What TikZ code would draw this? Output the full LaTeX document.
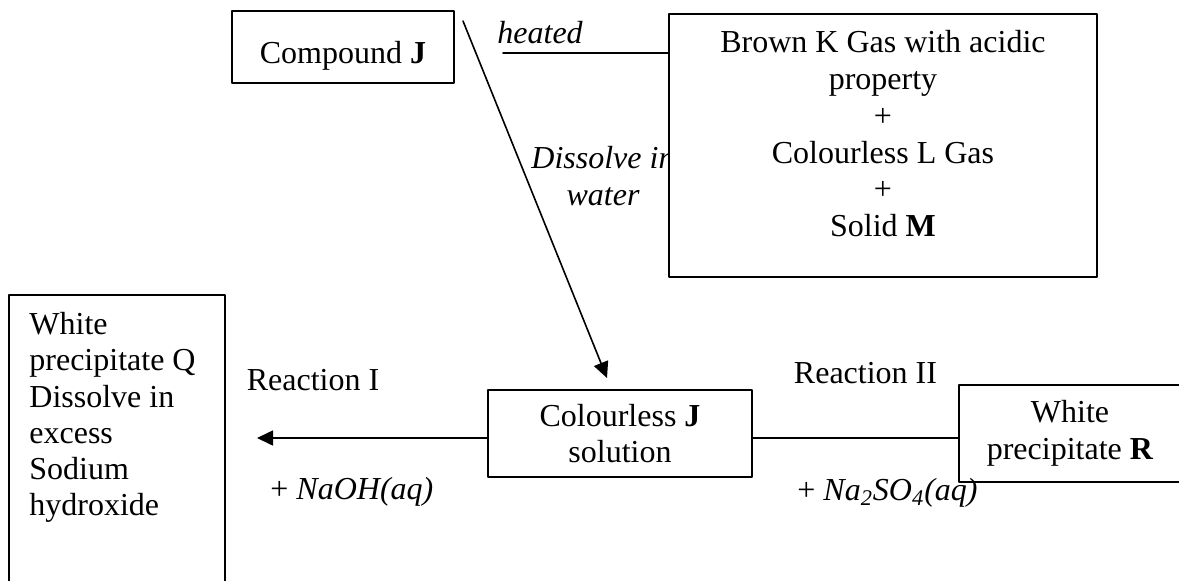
\documentclass[tikz,border=0pt]{standalone}
\usepackage{fontspec}
\setmainfont{Liberation Serif}
\usetikzlibrary{arrows.meta}

\tikzset{
  box/.style={draw, line width=1pt, fill=white, inner sep=0pt, align=center},
  lbl/.style={inner sep=0pt, align=center},
  conn/.style={line width=0.8pt},
}

\begin{document}
\begin{tikzpicture}[x=0.5pt, y=-0.5pt, line cap=round, line join=round, >={Triangle[length=8pt,width=7.5pt]}, font=\fontsize{16}{18.4}\selectfont]
    \useasboundingbox (0,0) rectangle (1179,580);
    % text that the big box partly covers
    \node[lbl, anchor=north, font=\fontsize{16}{18.3}\selectfont\itshape] (dis) at (603,146) {Dissolve in\\water};
    % boxes
    \node[box, minimum width=111pt, minimum height=36pt, text height=16pt, text depth=0pt] (cmpd) at (343,47) {Compound \textbf{J}};
    \node[box, minimum width=214pt, minimum height=131.5pt] (prod) at (883,145.5) {};
    \node[lbl, anchor=north] (prodtxt) at ([yshift=-8.5pt]prod.north) {Brown K Gas with acidic\\property\\+\\Colourless L Gas\\+\\Solid \textbf{M}};
    \node[box, minimum width=108pt, minimum height=147.5pt] (resQ) at (117,442.5) {};
    \node[lbl, anchor=north west, align=left, font=\fontsize{16}{18.1}\selectfont] (resQtxt) at ([xshift=10.5pt,yshift=-9pt]resQ.north west) {White\\precipitate Q\\Dissolve in\\excess\\Sodium\\hydroxide};
    \node[box, minimum width=132pt, minimum height=43.5pt] (soln) at (620,433.5) {Colourless \textbf{J}\\solution};
    \node[box, minimum width=111pt, minimum height=48.5pt] (resR) at (1070,433.5) {White\\precipitate \textbf{R}};
    % free ends
    \coordinate (hs) at (503,53);
    \coordinate (ds) at (463,21);
    \coordinate (de) at (607,378);
    \coordinate (qe) at (257,438);
    \coordinate (lvl) at (0,438);
    % connectors
    \draw[conn] (hs) -- (hs -| prod.west);
    \draw[conn,->] (ds) -- (de);
    \draw[conn,->] (soln.west |- qe) -- (qe);
    \draw[conn] (soln.east |- lvl) -- (resR.west |- lvl);
    % labels
    \node[lbl, anchor=base west, font=\fontsize{16}{18}\selectfont\itshape] (heat) at (497,43) {heated};
    \node[lbl, anchor=base] (rI) at (313,390) {Reaction I};
    \node[lbl, anchor=base] (rII) at (865.5,383) {Reaction II};
    \node[lbl, anchor=base west] (naoh) at (270,499) {+ \textit{NaOH(aq)}};
    \node[lbl, anchor=base west] (naso) at (797,500) {+ \textit{Na\textsubscript{2}SO\textsubscript{4}(aq)}};
\end{tikzpicture}
\end{document}
